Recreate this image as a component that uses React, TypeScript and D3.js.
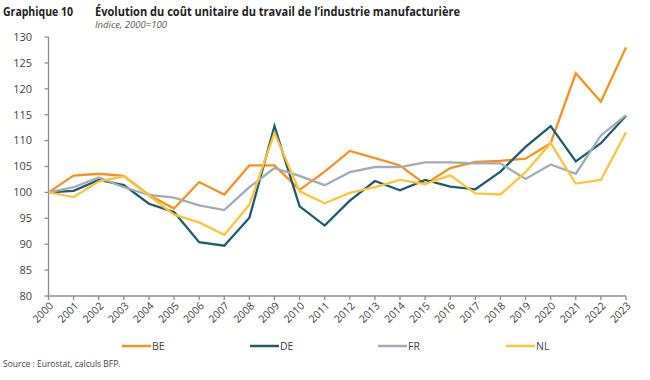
import React from "react";
import * as d3 from "d3";

const years = d3.range(2000, 2024).map(String);
const BE = [100, 103.25, 103.6, 103.2, 99.5, 96.9, 102.0, 99.6, 105.2, 105.2, 100.5, 104.0, 108.0, 106.6, 105.2, 101.6, 104.7, 105.9, 106.1, 106.5, 109.5, 123.0, 117.5, 128.0];
const DE = [100, 100.3, 102.4, 101.4, 97.8, 96.2, 90.4, 89.7, 95.1, 112.8, 97.3, 93.6, 98.4, 102.2, 100.4, 102.4, 101.1, 100.6, 104.0, 108.8, 112.8, 106.0, 109.5, 114.8];
const FR = [100, 101.0, 102.9, 101.0, 99.5, 99.0, 97.5, 96.6, 101.0, 104.7, 103.2, 101.4, 103.9, 104.9, 104.9, 105.8, 105.8, 105.6, 105.6, 102.6, 105.4, 103.6, 111.0, 114.9];
const NL = [100, 99.1, 102.1, 103.1, 99.4, 95.7, 94.2, 91.8, 97.6, 111.5, 100.2, 97.9, 99.9, 101.0, 102.4, 101.6, 103.3, 99.8, 99.6, 103.9, 109.5, 101.7, 102.4, 111.6];
const yTicks = [80, 85, 90, 95, 100, 105, 110, 115, 120, 125, 130];

const series = [
  { name: "BE", values: BE, color: "#F7901E" },
  { name: "DE", values: DE, color: "#1D5B6E" },
  { name: "FR", values: FR, color: "#A3ABB6" },
  { name: "NL", values: NL, color: "#FCC43D" },
];

const W = 650, H = 380;
const left = 48.5, right = 626, top = 37, bottom = 296;
const font = "'Open Sans', 'Noto Sans', sans-serif";

export default function App() {
  const x = d3.scalePoint<string>().domain(years).range([left, right]);
  const y = d3.scaleLinear().domain([80, 130]).range([bottom, top]);
  const line = d3.line<number>().x((_, i) => x(years[i]) as number).y((d) => y(d));
  const axisColor = "#8c8c8c";
  const textColor = "#404040";
  return (
    <svg width={W} height={H} style={{ position: "absolute", left: 0, top: 0, background: "#fff" }}>
      <text x={3} y={16} fontFamily={font} fontWeight={700} fontSize={12.5} fill="#222" textLength={70} lengthAdjust="spacingAndGlyphs">Graphique 10</text>
      <text x={95} y={16} fontFamily={font} fontWeight={700} fontSize={12.5} fill="#222" textLength={365} lengthAdjust="spacingAndGlyphs">Évolution du coût unitaire du travail de l’industrie manufacturière</text>
      <text x={95} y={28} fontFamily={font} fontStyle="italic" fontSize={8.5} fill="#555" textLength={72} lengthAdjust="spacingAndGlyphs">Indice, 2000=100</text>

      {/* y axis */}
      <line x1={left} x2={left} y1={top} y2={bottom} stroke={axisColor} strokeWidth={1.3} />
      {yTicks.map((t) => (
        <g key={t}>
          <line x1={left - 4} x2={left} y1={y(t)} y2={y(t)} stroke={axisColor} strokeWidth={1.3} />
          <text x={32} y={y(t)} dy="0.35em" textAnchor="end" fontFamily={font} fontSize={11} fill={textColor}>{t}</text>
        </g>
      ))}
      {/* x axis */}
      <line x1={left} x2={right} y1={bottom} y2={bottom} stroke={axisColor} strokeWidth={1.3} />
      {years.map((yr) => (
        <g key={yr}>
          <line x1={x(yr)} x2={x(yr)} y1={bottom} y2={bottom + 4} stroke={axisColor} strokeWidth={1.3} />
          <text
            transform={`translate(${(x(yr) as number) + 3},${bottom + 8}) rotate(-45)`}
            textAnchor="end"
            dy="0.35em"
            fontFamily={font}
            fontSize={10.5}
            fill={textColor}
          >{yr}</text>
        </g>
      ))}

      {series.map((s) => (
        <path key={s.name} d={line(s.values) || ""} fill="none" stroke={s.color} strokeWidth={2.3} strokeLinejoin="miter" />
      ))}

      {/* legend */}
      {series.map((s, i) => {
        const lx = 122 + i * 128;
        return (
          <g key={s.name}>
            <line x1={lx} x2={lx + 29} y1={346} y2={346} stroke={s.color} strokeWidth={2.5} />
            <text x={lx + 30} y={346} dy="0.35em" fontFamily={font} fontSize={10.5} fill={textColor}>{s.name}</text>
          </g>
        );
      })}
      <text x={3} y={364} dy="0.35em" fontFamily={font} fontSize={8.5} fill={textColor}>Source : Eurostat, calculs BFP.</text>
    </svg>
  );
}
